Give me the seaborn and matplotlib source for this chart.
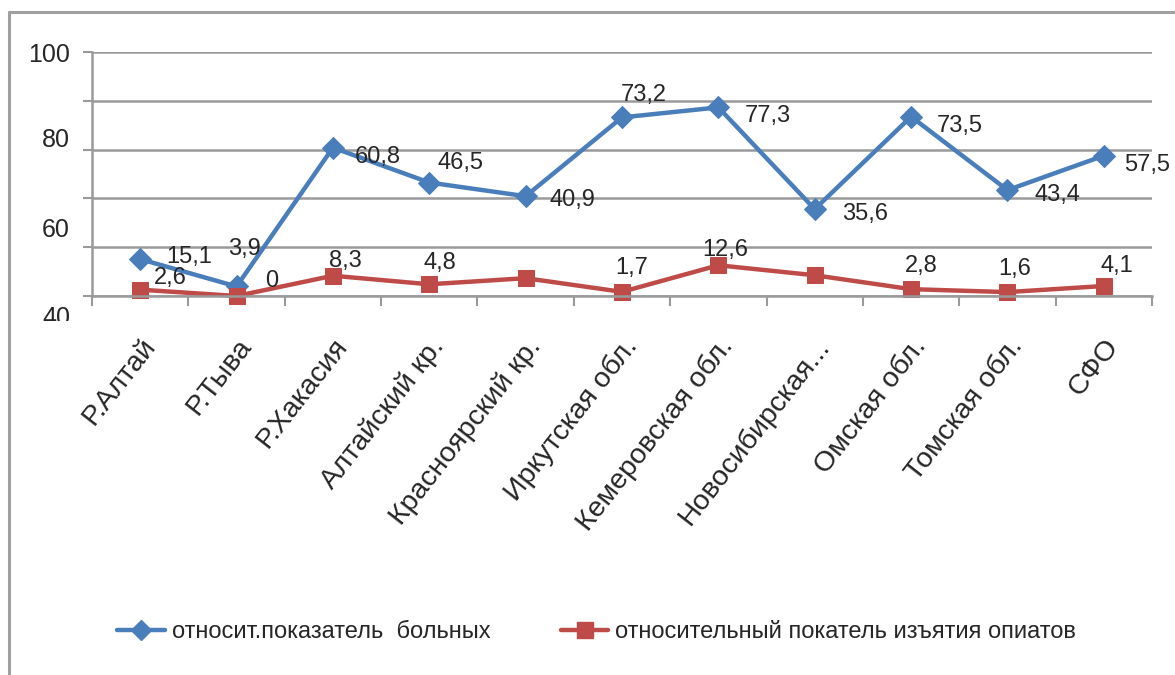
import pandas as pd
import seaborn as sns
import matplotlib.pyplot as plt
from matplotlib.lines import Line2D
from matplotlib.transforms import Bbox, TransformedBbox

regions = ['Р.Алтай', 'Р.Тыва', 'Р.Хакасия', 'Алтайский кр.', 'Красноярский кр.',
           'Иркутская обл.', 'Кемеровская обл.', 'Новосибирская...', 'Омская обл.',
           'Томская обл.', 'СФО']
patients = [15.1, 3.9, 60.8, 46.5, 40.9, 73.2, 77.3, 35.6, 73.5, 43.4, 57.5]
seizures = [2.6, 0, 8.3, 4.8, 7.3, 1.7, 12.6, 8.5, 2.8, 1.6, 4.1]
seizure_labels = ['2,6', '0', '8,3', '4,8', '', '1,7', '12,6', '', '2,8', '1,6', '4,1']
ytick_text = ['100', '80', '60', '40']

name_blue = 'относит.показатель  больных'
name_red = 'относительный покатель изъятия опиатов'
blue = '#4a7ebb'
red = '#be4b48'

# label offsets in pixels (dx, dy), placed by hand like the original
off_blue = [(49, 2), (8, 37), (45, -9), (31, 20), (47, -4), (22, 22), (49, -9),
            (50, -5), (49, -9), (50, -5), (43, -9)]
off_red = [(30, 12), (35, 15), (12, 15), (11, 21), (0, 0), (10, 24), (7, 15),
           (0, 0), (10, 23), (7, 23), (13, 20)]

sns.set_style('white')
plt.rcParams['font.family'] = ['Liberation Sans', 'DejaVu Sans']

df = pd.DataFrame({'region': regions, 'patients': patients, 'seizures': seizures})

fig = plt.figure(figsize=(11.75, 6.75), dpi=100)
ax = fig.add_axes([92 / 1175, 1 - 296 / 675, 1060 / 1175, 244 / 675])

sns.lineplot(data=df, x='region', y='patients', color=blue, lw=3.2, marker='D',
             markersize=11, markeredgecolor=blue, sort=False, ax=ax, clip_on=False)
sns.lineplot(data=df, x='region', y='seizures', color=red, lw=3.2, marker='s',
             markersize=12, markeredgecolor=red, sort=False, ax=ax, clip_on=False)

for i, v in enumerate(patients):
    ax.annotate(f'{v:.1f}'.replace('.', ','), (i, v), xytext=off_blue[i],
                textcoords='offset pixels', ha='center', va='center', fontsize=17)
for i, v in enumerate(seizures):
    if seizure_labels[i]:
        ax.annotate(seizure_labels[i], (i, v), xytext=off_red[i],
                    textcoords='offset pixels', ha='center', va='center', fontsize=17)

ax.set_xlim(-0.5, len(regions) - 0.5)
ax.set_ylim(0, 100)
ax.set_yticks(range(0, 101, 20))
ax.set_yticklabels([])
ax.grid(axis='y', color='#9a9a9a', lw=1.8)
ax.set_axisbelow(True)
ax.tick_params(axis='y', length=6.5, color='#9a9a9a', width=1.5, left=True)
ax.set_xticks(range(len(regions)))
ax.set_xticklabels(regions, rotation=52, ha='right', rotation_mode='anchor', fontsize=20.5)
ax.set_xticks([i - 0.5 for i in range(len(regions) + 1)], minor=True)
ax.tick_params(axis='x', which='major', length=0, pad=27)
ax.tick_params(axis='x', which='minor', length=7, color='#9a9a9a', width=1.5, bottom=True)
ax.set_xlabel('')
ax.set_ylabel('')
for s in ['top', 'right']:
    ax.spines[s].set_visible(False)
for s in ['left', 'bottom']:
    ax.spines[s].set_color('#9a9a9a')
    ax.spines[s].set_linewidth(1.8)

# y labels as drawn in the reference (stretched scale)
ypos = [55, 140, 230, 318]
clip = TransformedBbox(Bbox([[0, 1 - 321 / 675], [1, 1]]), fig.transFigure)
for t, py in zip(ytick_text, ypos):
    txt = fig.text(70 / 1175, 1 - py / 675, t, ha='right', va='center', fontsize=18)
    txt.set_clip_box(clip)
    txt.set_clip_on(True)

handles = [Line2D([], [], color=blue, lw=3.2, marker='D', markersize=10),
           Line2D([], [], color=red, lw=3.2, marker='s', markersize=11)]
fig.legend(handles, [name_blue, name_red], loc='center', bbox_to_anchor=(0.508, 1 - 632 / 675),
           ncol=2, frameon=False, fontsize=17, handlelength=2.0, columnspacing=3.0,
           handletextpad=0.3)

# outer chart frame (only top and left visible)
fig.add_artist(Line2D([9 / 1175, 9 / 1175], [0, 1 - 12 / 675], color='#a0a0a0', lw=2.2))
fig.add_artist(Line2D([9 / 1175, 1], [1 - 12 / 675, 1 - 12 / 675], color='#a0a0a0', lw=2.2))

fig.savefig('out.png', dpi=100)
